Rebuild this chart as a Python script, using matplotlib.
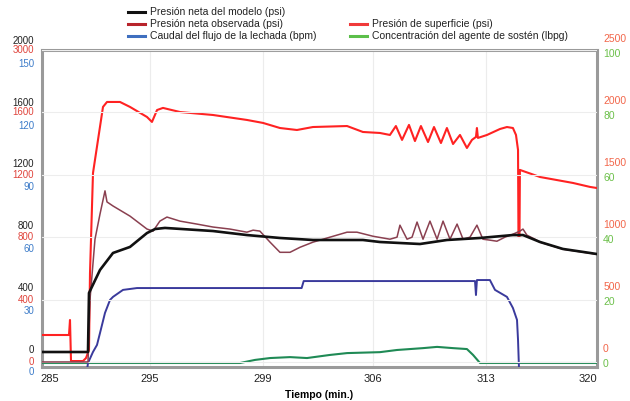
import matplotlib.pyplot as plt
import numpy as np
from matplotlib.lines import Line2D
from matplotlib.transforms import blended_transform_factory, ScaledTranslation

plt.rcParams['font.family'] = ['Liberation Sans', 'DejaVu Sans']

# x axis: time (min); labels are not evenly spaced in time on the original
x_ticks = [285, 295, 299, 306, 313, 320]
knot_t = [270, 285, 295, 299, 306, 313, 320, 335]
knot_p = [-100, 50, 150, 263, 373, 486, 588, 806.6]

# Presión neta del modelo (psi)
t_model = [284.2, 288.8, 288.9, 290.0, 291.3, 293.0, 294.7, 295.18, 295.53, 297.23, 298.43,
           300.08, 302.18, 305.36, 306.43, 308.91, 310.58, 312.63, 314.85, 315.54, 316.71,
           318.28, 320.14, 320.62]
p_model = [0, 0, 382, 531, 641, 680, 770, 796, 803, 783, 757,
           738, 725, 725, 712, 699, 725, 738, 757, 757, 712,
           667, 641, 634]

# Presión neta observada (psi)
t_obs = [284.2, 288.8, 289.0, 289.5, 290.0, 290.5, 290.7, 291.3, 293.0, 294.7, 295.11, 295.35,
         295.60, 296.06, 296.66, 297.23, 297.83, 298.43, 298.65, 298.89, 299.45, 300.08,
         300.72, 301.35, 302.18, 303.26, 304.35, 304.98, 306.0, 307.05, 307.49, 307.67,
         308.11, 308.42, 308.73, 309.10, 309.53, 309.97, 310.34, 310.77, 311.21, 311.58,
         312.01, 312.44, 312.81, 313.27, 313.75, 314.30, 314.85, 315.33, 315.54, 315.81,
         316.36, 316.71, 318.28, 320.14, 320.62]
p_obs = [0, 0, 400, 787, 948, 1097, 1026, 1000, 935, 852, 839, 903,
         929, 903, 884, 865, 852, 832, 845, 839, 768, 703,
         703, 735, 768, 800, 832, 832, 806, 787, 800, 877,
         787, 800, 897, 787, 903, 787, 903, 787, 884, 787,
         800, 877, 787, 781, 774, 800, 819, 839, 852, 813,
         787, 768, 723, 697, 690]

# Presión de superficie (psi)
t_surf = [284.2, 286.9, 287.0, 287.1, 288.3, 288.6, 288.9, 289.0, 289.3, 289.8, 290.3, 290.7,
          292.0, 293.0, 294.7, 295.07, 295.25, 295.46, 296.06, 297.23, 298.43, 299.0, 300.08,
          301.16, 302.18, 304.35, 305.36, 306.43, 307.05, 307.42, 307.80, 308.23, 308.60,
          308.97, 309.41, 309.78, 310.21, 310.58, 310.96, 311.39, 311.82, 312.13, 312.38,
          312.44, 312.50, 313.07, 313.96, 314.44, 314.85, 315.06, 315.20, 315.23, 315.30,
          315.33, 316.71, 318.97, 320.14, 320.62]
p_surf = [121, 121, 242, -89, -89, -65, 0, 621, 1427, 1694, 1960, 2000,
          2000, 1960, 1879, 1839, 1935, 1952, 1919, 1895, 1855, 1831, 1790,
          1774, 1798, 1806, 1758, 1750, 1734, 1806, 1694, 1815, 1685,
          1806, 1677, 1798, 1669, 1790, 1661, 1734, 1629, 1694, 1718,
          1790, 1710, 1734, 1782, 1798, 1790, 1734, 1613, 911, 911,
          1452, 1395, 1347, 1315, 1306]

# Caudal del flujo de la lechada (bpm)
t_rate = [284.2, 288.7, 288.8, 289.3, 289.7, 290.0, 290.5, 291.0, 291.3, 292.3, 293.7, 294.7,
          301.46, 301.59, 312.32, 312.38, 312.44, 313.27, 313.62, 314.44, 314.85, 315.13,
          315.20, 315.27, 320.62]
q_rate = [0, 0, 3.4, 8.8, 12.2, 18.0, 27.8, 34.1, 35.6, 39.0, 39.9, 39.9,
          39.9, 43.3, 43.3, 36.5, 43.8, 43.8, 39.0, 35.6, 30.2, 24.4,
          14.6, 0, 0]

# Concentración del agente de sostén (lbpg)
t_prop = [284.2, 298.19, 298.72, 299.45, 300.72, 301.80, 303.26, 304.35, 306.43, 307.49,
          309.10, 309.97, 310.96, 311.82, 312.20, 312.63, 320.62]
c_prop = [0, 0, 1.0, 1.6, 1.9, 1.6, 2.6, 3.2, 3.5, 4.2,
          4.8, 5.2, 4.8, 4.5, 2.6, 0, 0]

# tick labels
psi_ticks = [0, 400, 800, 1200, 1600, 2000]
obs_labels = ['0', '400', '800', '1200', '1600', '3000']
rate_ticks = [0, 30, 60, 90, 120, 150]
surf_ticks = [0, 500, 1000, 1500, 2000, 2500]
prop_ticks = [0, 20, 40, 60, 80, 100]


def fwd(t):
    return np.interp(t, knot_t, knot_p)


def inv(p):
    return np.interp(p, knot_p, knot_t)


fig = plt.figure(figsize=(6.3, 4.01), dpi=100)
ax = fig.add_axes([42 / 630, 34 / 401, 555 / 630, 317 / 401])
ax.set_xscale('function', functions=(fwd, inv))
ax.set_ylim(0, 1)
ax.set_yticks([])
for s in ax.spines.values():
    s.set_color('#9a9a9a')
    s.set_linewidth(2.2)


def twin(ylim):
    a = ax.twinx()
    a.set_xscale('function', functions=(fwd, inv))
    a.set_ylim(*ylim)
    a.set_yticks([])
    for s in a.spines.values():
        s.set_visible(False)
    return a


ax_prop = twin((-1.29, 101.0))
ax_rate = twin((1.46, 155.8))
ax_surf = twin((-137, 2419))
ax_obs = twin((-32.3, 2000))
ax_model = twin((-97.1, 1954.7))

for yv in psi_ticks:
    ax_obs.axhline(yv, color='#ededed', lw=0.8, zorder=0)

ax_prop.plot(t_prop, c_prop, color='#1f8a55', lw=1.5)
ax_rate.plot(t_rate, q_rate, color='#3a3a9c', lw=1.4)
ax_surf.plot(t_surf, p_surf, color='#ff2222', lw=1.5)
ax_obs.plot(t_obs, p_obs, color='#8a4050', lw=1.1)
ax_model.plot(t_model, p_model, color='#111111', lw=1.9)

# x axis set after the twins so the shared scale keeps these ticks
ax.set_xlim(284.2, 320.62)
ax.set_xticks(x_ticks)
ax.set_xticklabels([str(v) for v in x_ticks], fontsize=8, color='#222222')
ax.tick_params(axis='x', length=0, pad=5)
for xv in x_ticks[1:-1]:
    ax.axvline(xv, color='#ececec', lw=0.8, zorder=0)
ax.set_xlabel('Tiempo (min.)', fontsize=7.5, fontweight='bold', labelpad=4)

# stacked axis labels (small nudges keep the three rows apart)
left_x = -0.014
right_x = 1.011
for a, vals, labs, col, dy in [(ax_model, psi_ticks, [str(v) for v in psi_ticks], '#222222', 1.6),
                               (ax_obs, psi_ticks, obs_labels, '#e0443c', 0),
                               (ax_rate, rate_ticks, [str(v) for v in rate_ticks], '#3d7cc9', -1.6)]:
    tr = blended_transform_factory(ax.transAxes, a.transData) + \
        ScaledTranslation(0, dy / 72, fig.dpi_scale_trans)
    for v, lab in zip(vals, labs):
        ax.text(left_x, v, lab, transform=tr, ha='right', va='center', fontsize=7,
                color=col, clip_on=False)
for a, vals, col, dy in [(ax_surf, surf_ticks, '#f2664a', 0.8), (ax_prop, prop_ticks, '#6cc04a', -0.8)]:
    tr = blended_transform_factory(ax.transAxes, a.transData) + \
        ScaledTranslation(0, dy / 72, fig.dpi_scale_trans)
    for v in vals:
        ax.text(right_x, v, str(v), transform=tr, ha='left', va='center', fontsize=7.5,
                color=col, clip_on=False)

# legend
legend_items = [
    (128, 12, '#111111', 'Presión neta del modelo (psi)'),
    (128, 24, '#b8242b', 'Presión neta observada (psi)'),
    (128, 36, '#3f6fbf', 'Caudal del flujo de la lechada (bpm)'),
    (350, 24, '#f03a3a', 'Presión de superficie (psi)'),
    (350, 36, '#5cbf4a', 'Concentración del agente de sostén (lbpg)'),
]
for x0, y0, col, lab in legend_items:
    yf = 1 - y0 / 401
    fig.add_artist(Line2D([x0 / 630, (x0 + 17) / 630], [yf, yf], color=col, lw=2.2))
    fig.text((x0 + 22) / 630, yf, lab, fontsize=7.5, color='#222222', va='center', ha='left')

plt.savefig('out.png', dpi=100)
